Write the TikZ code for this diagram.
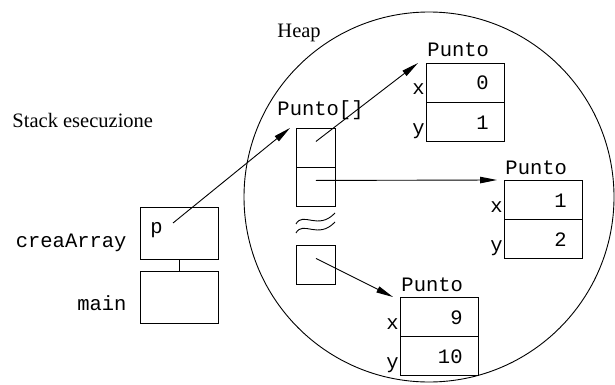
\documentclass[tikz,border=0pt]{standalone}
\usepackage{fontspec}
\setmainfont{Liberation Serif}
\setmonofont{Liberation Mono}
\usetikzlibrary{arrows.meta}

\begin{document}
\begin{tikzpicture}[x=1pt, y=-1pt, line width=0.9pt,
  every node/.style={font=\fontsize{20.5}{24}\selectfont\ttfamily, inner sep=0pt},
  serif/.style={font=\fontsize{20.5}{24}\selectfont\rmfamily},
  cell/.style={draw, minimum width=78pt, minimum height=39pt, anchor=north west},
  slot/.style={draw, minimum width=39pt, minimum height=39pt, anchor=north west},
  frame/.style={draw, minimum width=78pt, minimum height=52pt, anchor=north west},
  ref/.style={-{Triangle[length=17pt,width=6.5pt]}},
]
\useasboundingbox (0,0) rectangle (615,385);

% heap region
\node[draw, circle, minimum size=370pt] (heap) at (429,197) {};
\node[serif, anchor=base west] (heaplbl) at (277,38) {Heap};

% call stack
\node[serif, anchor=base west] (stacklbl) at (12,128) {Stack esecuzione};
\node[frame] (crea) at (140,207) {};
\node[frame] (main) at (140,271) {};
\draw (crea.south) -- (main.north);
\node[anchor=base east] (lcrea) at (127,247) {creaArray};
\node[anchor=base east] (lmain) at (127,310) {main};
\node[anchor=base west] (p) at (150,233) {p};
\coordinate (pref) at (173,223);

% array of references
\node[anchor=base west] (arrlbl) at (277,116) {Punto[]};
\node[slot] (a1) at (296,128) {};
\node[slot] (a2) at (296,167) {};
\node[slot] (a3) at (296,245) {};
\draw (296,224) .. controls (303,211) and (318,231) .. (335,213);
\draw (296,233) .. controls (303,220) and (318,240) .. (335,222);

% Punto objects
\foreach \n/\px/\py/\vx/\vy in {1/426/63/0/1, 2/504/180/1/2, 3/400/297/9/10}{
  \node[cell] (o\n x) at (\px,\py) {};
  \node[cell] (o\n y) at (\px,\py+39) {};
  \node[anchor=base west] (o\n lbl) at (\px+1,\py-6) {Punto};
  \node[anchor=base east] (o\n xl) at (\px-1,\py+32) {x};
  \node[anchor=base east] (o\n yl) at (\px-1,\py+71) {y};
  \node[anchor=base east] (o\n xv) at (\px+63,\py+27) {\vx};
  \node[anchor=base east] (o\n yv) at (\px+63,\py+66) {\vy};
}

% references
\draw[ref] (pref) -- ([xshift=-6pt]a1.north west);
\draw[ref] ([yshift=6.5pt]a1.center) -- ([xshift=-8pt]o1x.north west);
\draw[ref] ([yshift=6.5pt]a2.center) -- ([xshift=-7pt]o2x.north west);
\draw[ref] ([yshift=6.5pt]a3.center) -- ([xshift=-7pt]o3x.north west);
\end{tikzpicture}
\end{document}
